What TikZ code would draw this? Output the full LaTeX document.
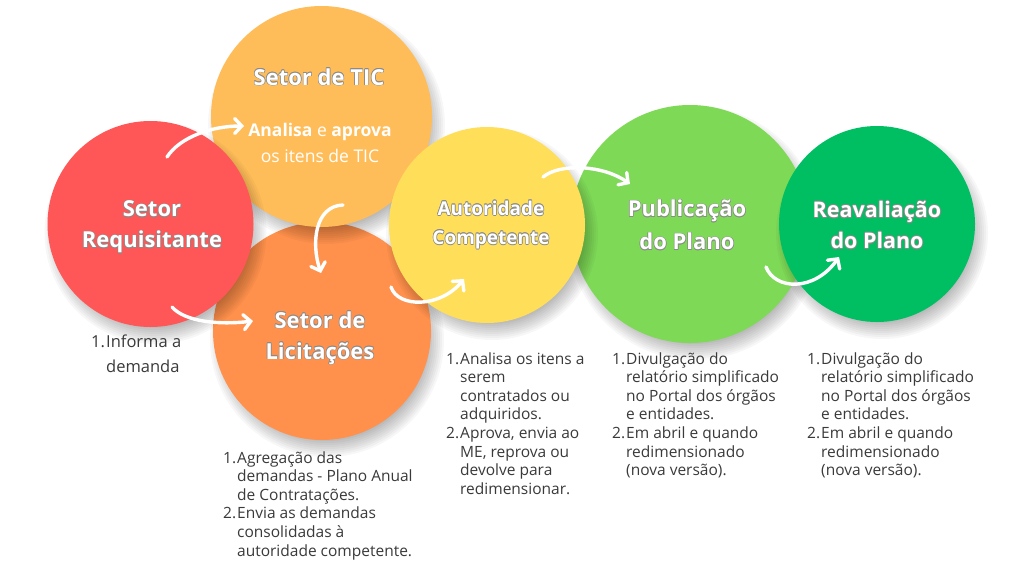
\documentclass[tikz,border=0pt]{standalone}
\usepackage{fontspec}
\setmainfont{Open Sans}
\usetikzlibrary{arrows.meta}
\definecolor{cred}{HTML}{FF5757}
\definecolor{ctic}{HTML}{FFBD59}
\definecolor{clic}{HTML}{FF914D}
\definecolor{caut}{HTML}{FFDE59}
\definecolor{cpub}{HTML}{7ED957}
\definecolor{crea}{HTML}{00BF63}
\definecolor{ltext}{HTML}{3A3A3A}
\definecolor{olgray}{HTML}{8A8A8A}
\newcommand\olt[1]{\leavevmode
 \rlap{\color{olgray}\hspace{0.6pt}#1}%
 \rlap{\color{olgray}\hspace{-0.6pt}#1}%
 \rlap{\color{olgray}\raisebox{0.6pt}{#1}}%
 \rlap{\color{olgray}\raisebox{-0.6pt}{#1}}%
 \rlap{\color{olgray}\hspace{0.45pt}\raisebox{0.45pt}{#1}}%
 \rlap{\color{olgray}\hspace{-0.45pt}\raisebox{0.45pt}{#1}}%
 \rlap{\color{olgray}\hspace{0.45pt}\raisebox{-0.45pt}{#1}}%
 \rlap{\color{olgray}\hspace{-0.45pt}\raisebox{-0.45pt}{#1}}%
 #1}
% soft drop shadow: concentric translucent discs
\newcommand\softshadow[2]{%
 \foreach \k in {0,...,11}{\fill[black,fill opacity=0.032] ([shift={(5,9)}]#1) circle[radius={(#2-14+2*\k)*1pt}];}}
\begin{document}
\begin{tikzpicture}[x=1pt,y=-1pt,
 disc/.style={circle,inner sep=0pt,minimum size=#1},
 title/.style={font=\bfseries\fontsize{22}{31}\selectfont,text=white,align=center,inner sep=0pt},
 sub/.style={font=\fontsize{17.5}{26}\selectfont,text=white,align=center,inner sep=0pt},
 lst/.style={font=\fontsize{15.5}{18.6}\selectfont,text=ltext,anchor=base west,inner sep=0pt},
 warrow/.style={draw=white,line width=3.4pt,line cap=round,
   -{Straight Barb[length=7pt,width=15pt,line cap=round]}}]
\useasboundingbox[fill=white] (0,0) rectangle (1024,576);
% circles with soft drop shadows
\coordinate (licC) at (322,331);
\coordinate (ticC) at (321.5,116.5);
\coordinate (reqC) at (150.5,224);
\coordinate (pubC) at (690,224);
\coordinate (autC) at (487,225);
\coordinate (reaC) at (877,224);
\softshadow{licC}{109}
\node[disc=218pt,fill=clic] (lic) at (licC) {};
\softshadow{ticC}{110.5}
\node[disc=221pt,fill=ctic] (tic) at (ticC) {};
\softshadow{reqC}{103}
\node[disc=206pt,fill=cred] (req) at (reqC) {};
\softshadow{pubC}{119}
\node[disc=238pt,fill=cpub] (pub) at (pubC) {};
\softshadow{autC}{98}
\node[disc=196pt,fill=caut] (aut) at (autC) {};
\softshadow{reaC}{98}
\node[disc=196pt,fill=crea] (rea) at (reaC) {};
% titles
\node[title] (reqT) at (152,227) {\olt{Setor}\\\olt{Requisitante}};
\node[title] (ticT) at (319,77) {\olt{Setor de TIC}};
\node[sub] (ticS) at (320,143) {\textbf{Analisa} e \textbf{aprova}\\os itens de TIC};
\node[title] (licT) at (320,338) {\olt{Setor de}\\\olt{Licitações}};
\node[title,font=\bfseries\fontsize{19}{29}\selectfont] (autT) at (491,225) {\olt{Autoridade}\\\olt{Competente}};
\node[title,font=\bfseries\fontsize{22}{33}\selectfont] (pubT) at (687,225) {\olt{Publicação}\\\olt{do Plano}};
\node[title,font=\bfseries\fontsize{21.5}{31}\selectfont] (reaT) at (877,225) {\olt{Reavaliação}\\\olt{do Plano}};
% lists
\node[lst,font=\fontsize{16.5}{25}\selectfont] (reqL) at (91,347) {\begin{tabular}[t]{@{}l@{}l@{}}
\makebox[15pt][l]{1.}&Informa a\\ &demanda\end{tabular}};
\node[lst] (licL) at (223,463) {\begin{tabular}[t]{@{}l@{}l@{}}
\makebox[14pt][l]{1.}&Agregação das\\ &demandas - Plano Anual\\ &de Contratações.\\
\makebox[14pt][l]{2.}&Envia as demandas\\ &consolidadas à\\ &autoridade competente.\end{tabular}};
\node[lst] (autL) at (446,364) {\begin{tabular}[t]{@{}l@{}l@{}}
\makebox[14pt][l]{1.}&Analisa os itens a\\ &serem\\ &contratados ou\\ &adquiridos.\\
\makebox[14pt][l]{2.}&Aprova, envia ao\\ &ME, reprova ou\\ &devolve para\\ &redimensionar.\end{tabular}};
\node[lst] (pubL) at (612,364) {\begin{tabular}[t]{@{}l@{}l@{}}
\makebox[14pt][l]{1.}&Divulgação do\\ &relatório simplificado\\ &no Portal dos órgãos\\ &e entidades.\\
\makebox[14pt][l]{2.}&Em abril e quando\\ &redimensionado\\ &(nova versão).\end{tabular}};
\node[lst] (reaL) at (807,364) {\begin{tabular}[t]{@{}l@{}l@{}}
\makebox[14pt][l]{1.}&Divulgação do\\ &relatório simplificado\\ &no Portal dos órgãos\\ &e entidades.\\
\makebox[14pt][l]{2.}&Em abril e quando\\ &redimensionado\\ &(nova versão).\end{tabular}};
% arrow end points
\coordinate (a1s) at (167,157); \coordinate (a1e) at (244,126);
\coordinate (a2s) at (343,205); \coordinate (a2e) at (321,273);
\coordinate (a3s) at (172,307); \coordinate (a3e) at (253,321);
\coordinate (a4s) at (391,287); \coordinate (a4e) at (464,279);
\coordinate (a5s) at (543,177); \coordinate (a5e) at (630,184);
\coordinate (a6s) at (766,267); \coordinate (a6e) at (839,257);
\draw[warrow] (a1s) .. controls (180,137) and (212,126) .. (a1e);
\draw[warrow] (a2s) .. controls (315,206) and (311,243) .. (a2e);
\draw[warrow] (a3s) .. controls (185,322) and (220,325) .. (a3e);
\draw[warrow] (a4s) .. controls (398,308) and (440,308) .. (a4e);
\draw[warrow] (a5s) .. controls (560,163) and (603,165) .. (a5e);
\draw[warrow] (a6s) .. controls (775,290) and (814,292) .. (a6e);
\end{tikzpicture}
\end{document}
